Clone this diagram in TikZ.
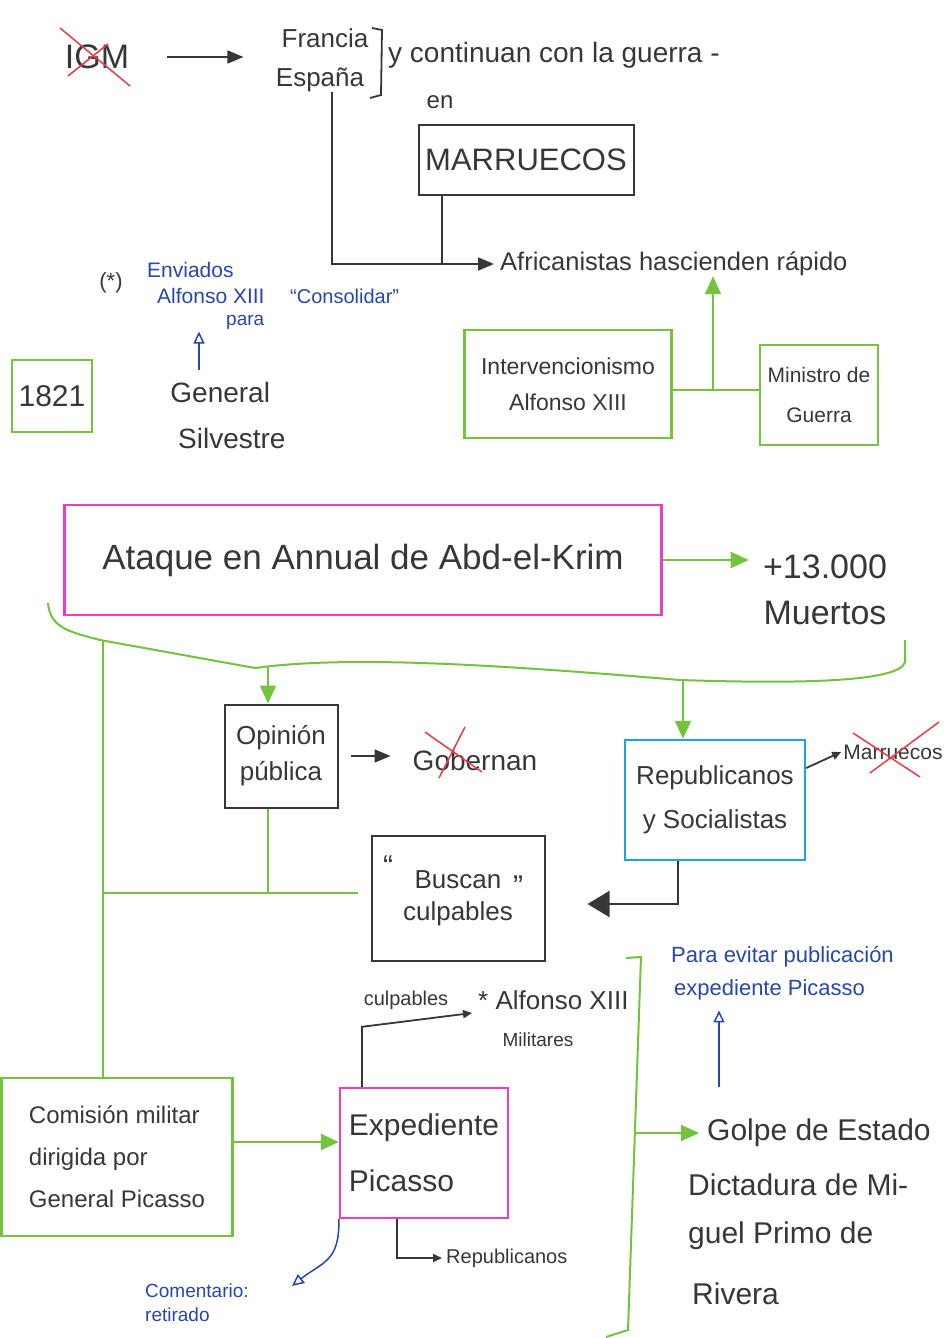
\documentclass[tikz,border=0pt]{standalone}
\usepackage{fontspec}
\setmainfont{Liberation Sans}
\usetikzlibrary{arrows.meta}
\definecolor{hgreen}{RGB}{115,195,60}
\definecolor{hpink}{RGB}{238,60,200}
\definecolor{hcyan}{RGB}{25,165,230}
\definecolor{hblue}{RGB}{40,70,175}
\definecolor{hred}{RGB}{232,60,70}
\definecolor{hink}{RGB}{55,55,55}
\newcommand\fsz[2]{\fontsize{#1}{#2}\selectfont}
\begin{document}
\begin{tikzpicture}[x=1pt,y=-1pt,
  every node/.style={inner sep=0pt,text=hink,align=center},
  gbox/.style={draw=hgreen,line width=2.4pt},
  kbox/.style={draw=hink,line width=2pt},
  pbox/.style={draw=hpink,line width=2.4pt},
  cbox/.style={draw=hcyan,line width=2.4pt},
  gline/.style={draw=hgreen,line width=2pt},
  kline/.style={draw=hink,line width=1.8pt},
  garrow/.style={gline,-{Triangle[length=18pt,width=16pt]}},
  karrow/.style={kline,-{Triangle[length=16pt,width=13pt]}},
  ksmall/.style={kline,-{Triangle[length=9pt,width=8pt]}},
  barrow/.style={draw=hblue,line width=1.5pt,-{Triangle[open,length=12pt,width=11pt]}},
  bnote/.style={text=hblue},
  cross/.style={draw=hred,line width=1.5pt}]
\fill[white] (0,0) rectangle (946,1338);
\useasboundingbox (0,0) rectangle (946,1338);

% ---------- top row
\node[font=\fsz{34}{40}] (igm) at (97,57) {IGM};
\draw[cross] (60,28) -- (130,86);
\draw[cross] (68,76) -- (108,44);
\node[font=\fsz{26}{30}] (fr) at (325,38) {Francia};
\node[font=\fsz{26}{30}] (es) at (320,80) {España};
\draw[karrow] ([xshift=38pt]igm.east) -- ([xshift=-38pt]fr.west |- igm.east);
\draw[kline] (372,28) -- (382,30) -- (381,95) -- (370,98);
\node[anchor=west,font=\fsz{28}{32}] (cont) at (388,55) {y continuan con la guerra -};
\node[font=\fsz{24}{28}] (en) at (440,102) {en};
\node[kbox,minimum width=215pt,minimum height=70pt,font=\fsz{31}{36}] (marr) at (526,160) {MARRUECOS};
\node[anchor=west,font=\fsz{25.5}{30}] (afr) at (500,264) {Africanistas hascienden rápido};
\draw[karrow] ([xshift=12pt]es.south) |- ([xshift=-6pt]afr.west);
\draw[kline] ([xshift=-84pt]marr.south) -- ++(0,68);

% ---------- blue note and General Silvestre
\node[font=\fsz{22}{26}] (ast) at (111,283) {(*)};
\node[bnote,anchor=west,font=\fsz{21}{26}] (n1) at (147,270) {Enviados};
\node[bnote,anchor=west,font=\fsz{21}{26}] (n2) at (157,296) {Alfonso XIII};
\node[bnote,anchor=west,font=\fsz{19}{24}] (n3) at (226,322) {para};
\node[bnote,anchor=west,font=\fsz{20}{24}] (n4) at (290,296) {“Consolidar”};
\node[font=\fsz{28}{46},align=left] (gs) at (228,415) {General\\\ Silvestre};
\draw[barrow] ([xshift=-29pt,yshift=12pt]gs.north) -- ++(0,-38);
\node[gbox,minimum width=80pt,minimum height=72pt,font=\fsz{30}{36}] (y1821) at (52,396) {1821};

% ---------- Intervencionismo / Ministro
\node[gbox,minimum width=207pt,minimum height=108pt,font=\fsz{23}{36}] (interv) at (568,384) {Intervencionismo\\Alfonso XIII};
\node[gbox,minimum width=118pt,minimum height=100pt,font=\fsz{21}{40}] (mini) at (819,395) {Ministro de\\Guerra};
\coordinate (im) at (713,390);
\draw[gline] (interv.east |- im) -- (mini.west |- im);
\draw[garrow] (im) -- (im |- afr.south);

% ---------- Annual
\node[pbox,minimum width=597pt,minimum height=110pt,font=\fsz{35}{40}] (annual) at (363,560) {Ataque en Annual de Abd-el-Krim};
\node[font=\fsz{34}{46}] (dead) at (825,590) {+13.000\\Muertos};
\draw[garrow] (annual.east) -- ++(86,0);

% ---------- green brace
\draw[gline] (48,603) .. controls (50,628) and (70,632) .. (100,640) -- (255,668) .. controls (350,655) and (500,665) .. (680,680) .. controls (800,684) and (900,682) .. (905,662) -- (905,640);
\coordinate (b1) at (103,641);
\coordinate (b2) at (268,666);
\coordinate (b3) at (683,680);

% ---------- Opinion / Republicanos
\node[kbox,minimum width=113pt,minimum height=103pt,font=\fsz{26}{36}] (op) at (281,756) {Opinión\\pública};
\draw[garrow] (b2) -- (b2 |- op.north);
\node[font=\fsz{28}{32}] (gob) at (475,760) {Gobernan};
\draw[cross] (425,732) -- (482,772);
\draw[cross] (465,727) -- (439,778);
\draw[karrow] ([xshift=12pt]op.east) -- ([xshift=-22pt]gob.west |- op.east);

\node[cbox,minimum width=180pt,minimum height=120pt,font=\fsz{26}{44}] (rep) at (715,800) {Republicanos\\y Socialistas};
\draw[garrow] (b3) -- (b3 |- rep.north);
\node[font=\fsz{21}{24}] (mar2) at (893,752) {Marruecos};
\draw[cross] (853,733) -- (920,777);
\draw[cross] (939,722) -- (870,773);
\draw[ksmall] ([yshift=32pt]rep.east) -- ([xshift=-2pt]mar2.west);

% ---------- Buscan culpables
\node[kbox,minimum width=173pt,minimum height=125pt,font=\fsz{26}{32}] (bus) at (458,898) {Buscan\\culpables};
\node[font=\fsz{30}{30}] (q1) at (388,866) {“};
\node[font=\fsz{30}{30}] (q2) at (518,886) {”};
\draw[kline,-{Triangle[length=22pt,width=26pt]}] ([xshift=-37pt]rep.south) |- ([xshift=42pt,yshift=-6pt]bus.east);
\draw[gline] ([xshift=-13pt]op.south) -- ++(0,85);
\coordinate (g1) at (103,893);
\coordinate (g2) at (358,893);
\draw[gline] (g1) -- (g2);

% ---------- Comision / Expediente
\node[gbox,minimum width=231pt,minimum height=158pt,font=\fsz{24}{42},align=left] (com) at (117,1157) {Comisión militar\\dirigida por\\General Picasso};
\draw[gline] (b1) -- (b1 |- com.north);
\node[pbox,minimum width=168pt,minimum height=130pt,font=\fsz{30}{56},align=left] (exp) at (424,1153) {Expediente\\Picasso};
\draw[garrow] ([yshift=15pt]com.east) -- ([yshift=15pt]com.east -| exp.west);

\node[font=\fsz{20}{24}] (cul) at (406,1000) {culpables};
\node[anchor=west,font=\fsz{26}{30}] (alf) at (478,1000) {* Alfonso XIII};
\node[font=\fsz{19}{22}] (mil) at (538,1040) {Militares};
\draw[ksmall] ([xshift=-62pt]exp.north) -- ++(0,-60) -- ([xshift=-6pt,yshift=-13pt]alf.west);

\node[anchor=west,font=\fsz{20}{24}] (rep2) at (446,1258) {Republicanos};
\draw[ksmall] ([xshift=-27pt]exp.south) |- ([xshift=-4pt]rep2.west);

\node[bnote,anchor=north west,font=\fsz{19}{24},align=left] (comm) at (145,1284) {Comentario:\\retirado};
\draw[barrow] (exp.south west) .. controls (340,1262) and (322,1262) .. (292,1286);

% ---------- right bracket and Golpe
\draw[gline] (626,958) -- (641,957) -- (628,1330) -- (606,1337);
\node[anchor=west,font=\fsz{30}{34}] (golpe) at (707,1133) {Golpe de Estado};
\node[anchor=west,font=\fsz{30}{34}] (dict) at (688,1185) {Dictadura de Mi-};
\node[anchor=west,font=\fsz{30}{34}] (guel) at (688,1236) {guel Primo de};
\node[anchor=west,font=\fsz{30}{34}] (riv) at (692,1294) {Rivera};
\coordinate (gb) at (636,1133);
\draw[garrow] (gb) -- ([xshift=-8pt]golpe.west);

\node[bnote,anchor=west,font=\fsz{22}{26}] (pe1) at (671,957) {Para evitar publicación};
\node[bnote,anchor=west,font=\fsz{22}{26}] (pe2) at (674,990) {expediente Picasso};
\coordinate (bb) at (719,1087);
\draw[barrow] (bb) -- ([yshift=-10pt]bb |- pe2.south);
\end{tikzpicture}
\end{document}
